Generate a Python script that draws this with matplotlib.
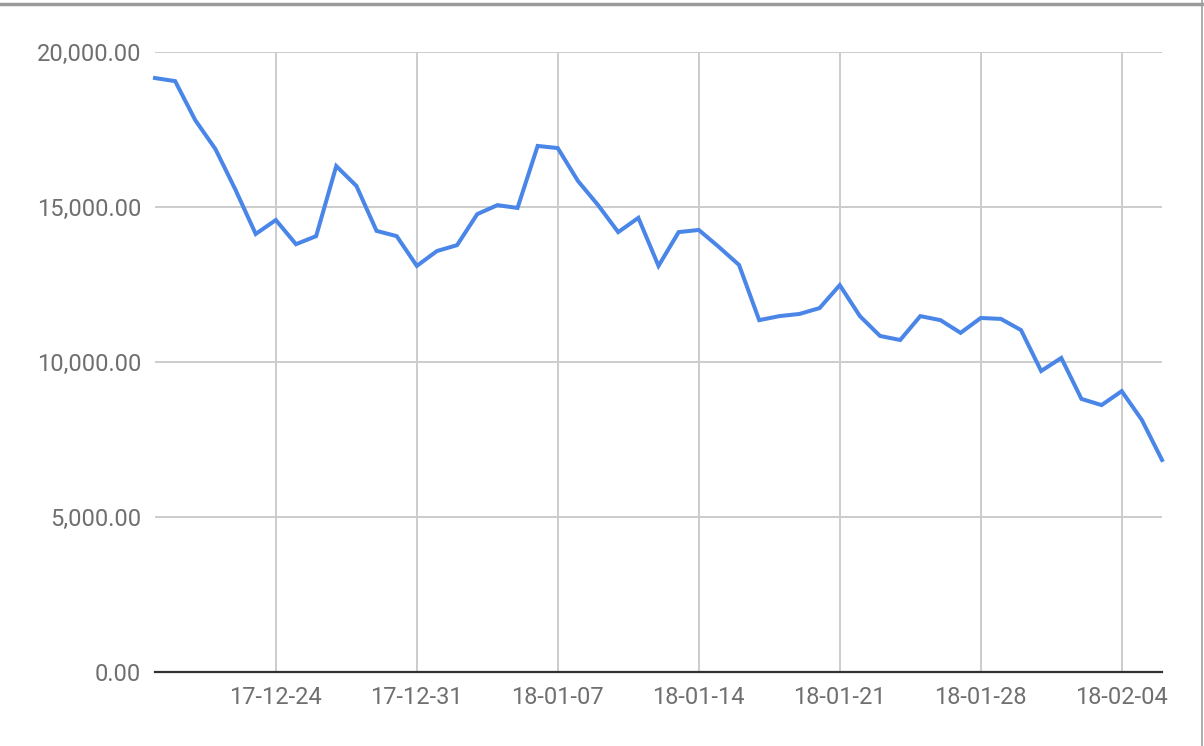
import numpy as np
import pandas as pd
import matplotlib
matplotlib.use('Agg')
import matplotlib.pyplot as plt
import matplotlib.dates as mdates
from matplotlib.ticker import FuncFormatter

# daily values, 2017-12-18 .. 2018-02-06
start_date = '2017-12-18'
values = [19160, 19060, 17800, 16870, 15550, 14130, 14580, 13800, 14060, 16320,
          15680, 14230, 14060, 13100, 13580, 13770, 14770, 15060, 14970, 16970,
          16900, 15840, 15060, 14190, 14650, 13100, 14190, 14260, 13710, 13130,
          11350, 11480, 11550, 11740, 12480, 11480, 10840, 10710, 11480, 11350,
          10940, 11420, 11390, 11030, 9710, 10130, 8810, 8610, 9060, 8130, 6840]
dates = pd.date_range(start_date, periods=len(values), freq='D')
y_ticks = [0, 5000, 10000, 15000, 20000]

plt.rcParams['font.family'] = ['Roboto', 'DejaVu Sans']
txt = '#6f6f6f'

fig = plt.figure(figsize=(12.04, 7.46), dpi=100)
ax = fig.add_axes([155/1204, 74/746, (1162-155)/1204, (672-52)/746])

ax.plot(dates, values, color='#4a86e8', lw=2.9, solid_joinstyle='miter', zorder=3, clip_on=False)

ax.set_xlim(dates[0], dates[-1])
ax.set_ylim(0, 20000)
ax.set_yticks(y_ticks)
ax.yaxis.set_major_formatter(FuncFormatter(lambda v, p: f'{v:,.2f}'))
ax.xaxis.set_major_locator(mdates.WeekdayLocator(byweekday=mdates.SU))
ax.xaxis.set_major_formatter(mdates.DateFormatter('%y-%m-%d'))

ax.grid(True, color='#cccccc', lw=1.4)
ax.set_axisbelow(True)
for s in ['top', 'right', 'left']:
    ax.spines[s].set_visible(False)
ax.spines['bottom'].set_color('#333333')
ax.spines['bottom'].set_linewidth(1.6)
ax.spines['bottom'].set_zorder(4)
ax.tick_params(axis='both', length=0, labelsize=17, labelcolor=txt)
ax.tick_params(axis='y', pad=10)
ax.tick_params(axis='x', pad=10)

# spreadsheet frame remnants
fig.add_artist(plt.Line2D([0, 1], [1 - 4/746, 1 - 4/746], color='#9a9a9a', lw=2.5))
fig.add_artist(plt.Line2D([1202/1204, 1202/1204], [0, 1], color='#a0a0a0', lw=1.2))

fig.savefig('out.png', dpi=100, facecolor='white')
